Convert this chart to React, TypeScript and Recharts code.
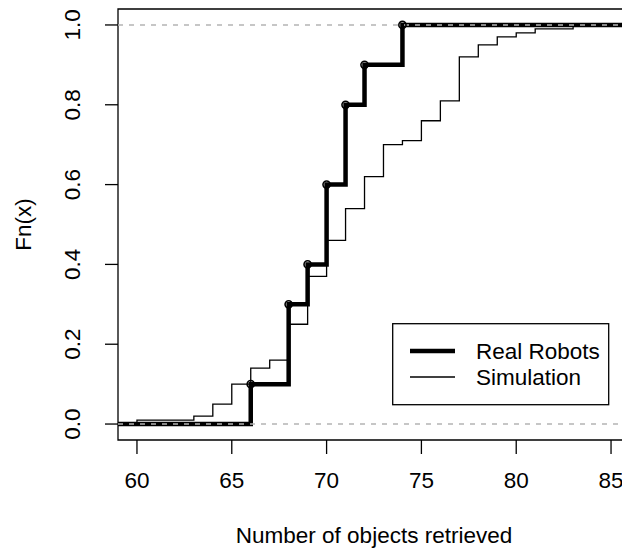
import { LineChart, Line, XAxis, YAxis, ReferenceLine, ReferenceArea, Legend } from 'recharts';

const robotX = [66, 68, 69, 70, 71, 72, 74];
const robotFn = [0.1, 0.3, 0.4, 0.6, 0.8, 0.9, 1.0];

const simX = [60, 63, 64, 65, 66, 67, 68, 69, 70, 71, 72, 73, 74, 75, 76, 77, 78, 79, 80, 81, 83];
const simFn = [0.01, 0.02, 0.05, 0.1, 0.14, 0.16, 0.25, 0.37, 0.46, 0.54, 0.62, 0.7, 0.71, 0.76, 0.81, 0.92, 0.95, 0.97, 0.98, 0.99, 1.0];

const xTicks = [60, 65, 70, 75, 80, 85];
const yTicks = [0, 0.2, 0.4, 0.6, 0.8, 1.0];
const yTickLabels = ['0.0', '0.2', '0.4', '0.6', '0.8', '1.0'];

const seriesNames = ['Real Robots', 'Simulation'];

const X_MIN = 59;
const X_MAX = 86;
const FONT = '"Liberation Sans", Arial, Helvetica, sans-serif';
const FS = 22.5;

// step function points, padded out to the plot edges
function stepData(xs: number[], ys: number[], withPoints: boolean) {
  return [
    { x: X_MIN, y: 0, jump: false },
    ...xs.map((x, i) => ({ x, y: ys[i], jump: withPoints })),
    { x: X_MAX, y: ys[ys.length - 1], jump: false },
  ];
}

const robotData = stepData(robotX, robotFn, true);
const simData = stepData(simX, simFn, false);

const JumpDot = (props: any) => {
  const { cx, cy, payload, index } = props;
  if (!payload || !payload.jump) return <g key={`d-${index}`} />;
  return <circle key={`d-${index}`} cx={cx} cy={cy} r={3.6} fill="none" stroke="#000" strokeWidth={1.6} />;
};

const XTick = (props: any) => {
  const { x, y, payload } = props;
  return (
    <text x={x} y={y} textAnchor="middle" fontSize={FS} fontFamily={FONT} fill="#000">
      {payload.value}
    </text>
  );
};

const YTick = (props: any) => {
  const { x, y, payload, index } = props;
  return (
    <text
      x={x}
      y={y}
      transform={`rotate(-90, ${x}, ${y})`}
      textAnchor="middle"
      fontSize={FS}
      fontFamily={FONT}
      fill="#000"
    >
      {yTickLabels[index] ?? payload.value}
    </text>
  );
};

const LegendBox = () => (
  <svg width={218} height={83} style={{ display: 'block' }}>
    <rect x={0.7} y={0.7} width={216} height={81} fill="#fff" stroke="#000" strokeWidth={1.3} />
    <line x1={18} x2={63} y1={28} y2={28} stroke="#000" strokeWidth={4.5} />
    <line x1={18} x2={63} y1={54} y2={54} stroke="#000" strokeWidth={1.3} />
    <text x={84} y={36} fontSize={FS} fontFamily={FONT} fill="#000">{seriesNames[0]}</text>
    <text x={84} y={62} fontSize={FS} fontFamily={FONT} fill="#000">{seriesNames[1]}</text>
  </svg>
);

export default function App() {
  return (
    <div style={{ position: 'absolute', left: 0, top: 0, width: 622, height: 550, overflow: 'hidden', background: '#fff' }}>
      <LineChart width={640} height={550} margin={{ top: 9, right: 10, left: 0, bottom: 0 }}>
        <XAxis
          type="number"
          dataKey="x"
          domain={[X_MIN, X_MAX]}
          ticks={xTicks}
          allowDataOverflow
          height={110}
          tickSize={14}
          tickMargin={34}
          tick={<XTick />}
          tickLine={{ stroke: '#000', strokeWidth: 1.3 }}
          axisLine={false}
          label={{
            content: ({ viewBox }: any) => (
              <text
                x={viewBox.x + viewBox.width / 2}
                y={543}
                textAnchor="middle"
                fontSize={FS}
                fontFamily={FONT}
                fill="#000"
              >
                Number of objects retrieved
              </text>
            ),
          }}
        />
        <YAxis
          type="number"
          dataKey="y"
          domain={[-0.04, 1.04]}
          ticks={yTicks}
          allowDataOverflow
          width={118}
          tickSize={13}
          tickMargin={25}
          tick={<YTick />}
          tickLine={{ stroke: '#000', strokeWidth: 1.3 }}
          axisLine={false}
          label={{
            content: ({ viewBox }: any) => {
              const lx = 31;
              const ly = viewBox.y + viewBox.height / 2;
              return (
                <text
                  x={lx}
                  y={ly}
                  transform={`rotate(-90, ${lx}, ${ly})`}
                  textAnchor="middle"
                  fontSize={FS}
                  fontFamily={FONT}
                  fill="#000"
                >
                  Fn(x)
                </text>
              );
            },
          }}
        />
        <ReferenceArea x1={X_MIN} x2={X_MAX} y1={-0.04} y2={1.04} fill="none" stroke="#000" strokeWidth={1.3} fillOpacity={0} />
        <Line
          data={robotData}
          dataKey="y"
          type="stepAfter"
          stroke="#000"
          strokeWidth={4.5}
          dot={JumpDot}
          activeDot={false}
          isAnimationActive={false}
          name={seriesNames[0]}
        />
        <Line
          data={simData}
          dataKey="y"
          type="stepAfter"
          stroke="#000"
          strokeWidth={1.3}
          dot={false}
          activeDot={false}
          isAnimationActive={false}
          name={seriesNames[1]}
        />
        <ReferenceLine y={0} stroke="#b4b4b4" strokeWidth={1.4} strokeDasharray="5 6" />
        <ReferenceLine y={1} stroke="#b4b4b4" strokeWidth={1.4} strokeDasharray="5 6" />
        <Legend
          layout="vertical"
          align="center"
          verticalAlign="middle"
          content={() => <LegendBox />}
          wrapperStyle={{ left: 392, top: 323, width: 218, height: 83 }}
        />
      </LineChart>
    </div>
  );
}
